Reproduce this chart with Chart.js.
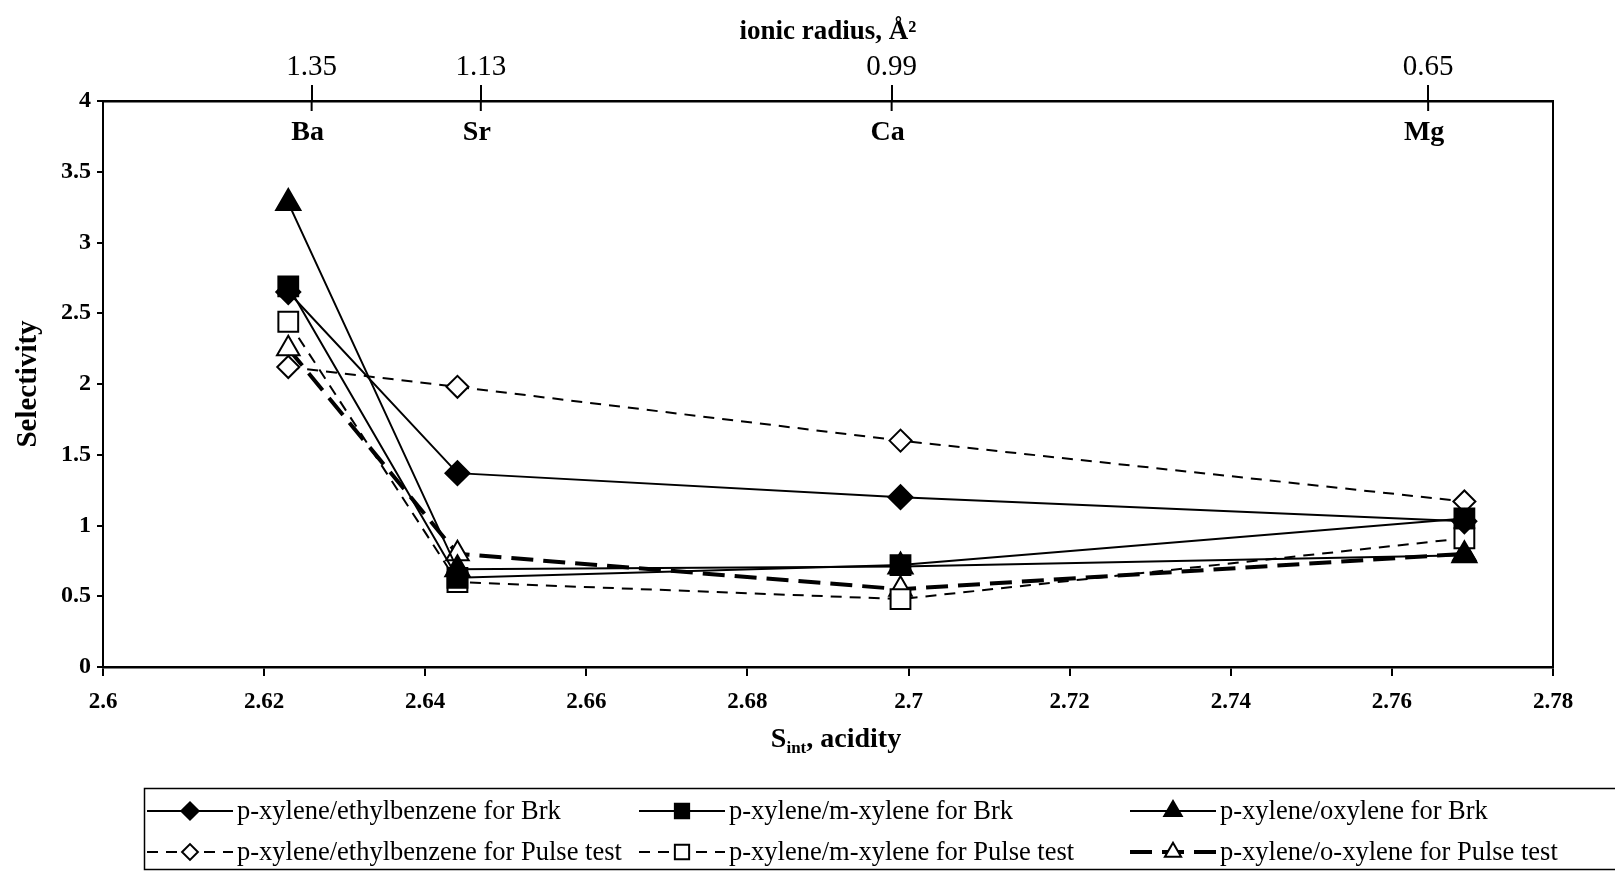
<!DOCTYPE html>
<html>
<head>
<meta charset="utf-8">
<script src="https://cdn.jsdelivr.net/npm/chart.js@4.4.0/dist/chart.umd.min.js"></script>
<style>
  html, body { margin: 0; padding: 0; background: #fff; }
  #wrap { width: 1615px; height: 872px; }
</style>
</head>
<body>
<div id="wrap"><canvas id="chart" width="1615" height="872"></canvas></div>
<script>
/* ── Data ───────────────────────────────────────── */
const xValues    = [2.623, 2.644, 2.699, 2.769];          // S_int acidity for Ba, Sr, Ca, Mg
const elements   = ['Ba', 'Sr', 'Ca', 'Mg'];
const ionRadius  = ['1.35', '1.13', '0.99', '0.65'];
const ionTickPos = [2.6259, 2.6469, 2.6979, 2.7645];      // where the radius ticks sit on the top axis
const xTicks     = [2.6, 2.62, 2.64, 2.66, 2.68, 2.7, 2.72, 2.74, 2.76, 2.78];
const yTicks     = [0, 0.5, 1, 1.5, 2, 2.5, 3, 3.5, 4];

const ebBrk   = [2.65, 1.37, 1.20, 1.03];
const mxBrk   = [2.69, 0.63, 0.72, 1.05];
const oxBrk   = [3.28, 0.69, 0.71, 0.79];
const ebPulse = [2.12, 1.98, 1.60, 1.17];
const mxPulse = [2.44, 0.60, 0.48, 0.91];
const oxPulse = [2.25, 0.80, 0.55, 0.80];

const seriesLabels = [
    'p-xylene/ethylbenzene for Brk',
    'p-xylene/m-xylene for Brk',
    'p-xylene/oxylene for Brk',
    'p-xylene/ethylbenzene for Pulse test',
    'p-xylene/m-xylene for Pulse test',
    'p-xylene/o-xylene for Pulse test'
];

const SERIF = '"Liberation Serif", "Times New Roman", serif';
const pts = arr => arr.map((y, i) => ({ x: xValues[i], y }));

function series(label, data, style) {
    return Object.assign({
        label,
        data: pts(data),
        borderColor: '#000',
        borderWidth: 2,
        borderDash: [],
        pointBorderColor: '#000',
        pointBorderWidth: 2,
        tension: 0,
        fill: false
    }, style);
}

/* ── Plugins ────────────────────────────────────── */
// inner part of the top ticks, element names and the right frame line
const frameExtras = {
    id: 'frameExtras',
    afterDatasetsDraw(chart) {
        const { ctx, chartArea: a } = chart;
        const top = chart.scales.x2;
        ctx.save();
        ctx.strokeStyle = '#000';
        ctx.lineWidth = 2;
        ctx.beginPath();
        ctx.moveTo(a.right, a.top);
        ctx.lineTo(a.right, a.bottom);
        ctx.stroke();

        ctx.fillStyle = '#000';
        ctx.font = 'bold 28px ' + SERIF;
        ctx.textAlign = 'center';
        ctx.textBaseline = 'middle';
        ionTickPos.forEach((v, i) => {
            const px = top.getPixelForValue(v);
            ctx.beginPath();
            ctx.moveTo(px, a.top);
            ctx.lineTo(px, a.top + 10);
            ctx.stroke();
            ctx.fillText(elements[i], px - 4, a.top + 32);
        });
        ctx.restore();
    }
};

// x-axis title with subscript + boxed legend in three columns
const extrasBelow = {
    id: 'extrasBelow',
    afterDraw(chart) {
        const ctx = chart.ctx;
        ctx.save();
        ctx.fillStyle = '#000';
        ctx.textBaseline = 'alphabetic';

        // S_int, acidity
        const big = 'bold 28px ' + SERIF, small = 'bold 17px ' + SERIF;
        ctx.font = big;   const wS = ctx.measureText('S').width;
        const wRest = ctx.measureText(', acidity').width;
        ctx.font = small; const wSub = ctx.measureText('int').width;
        let x = 836 - (wS + wSub + wRest) / 2;
        const base = 747;
        ctx.font = big;   ctx.fillText('S', x, base); x += wS;
        ctx.font = small; ctx.fillText('int', x, base + 6); x += wSub;
        ctx.font = big;   ctx.fillText(', acidity', x, base);

        // legend
        ctx.strokeStyle = '#000';
        ctx.lineWidth = 1.5;
        ctx.strokeRect(144.5, 788.5, 1520, 81);
        const cols = [147, 639, 1130];
        const rows = [811, 852];
        chart.data.datasets.forEach((ds, i) => {
            const x0 = cols[i % 3], y = rows[Math.floor(i / 3)];
            ctx.strokeStyle = '#000';
            ctx.setLineDash(ds.borderDash);
            ctx.lineWidth = ds.borderWidth;
            ctx.beginPath();
            ctx.moveTo(x0, y);
            ctx.lineTo(x0 + 86, y);
            ctx.stroke();
            ctx.setLineDash([]);
            ctx.fillStyle = ds.pointBackgroundColor;
            ctx.lineWidth = ds.pointBorderWidth;
            Chart.helpers.drawPoint(ctx, {
                pointStyle: ds.pointStyle,
                radius: ds.pointRadius * 0.72,
                rotation: 0,
                borderWidth: ds.pointBorderWidth
            }, x0 + 43, y);
            ctx.fillStyle = '#000';
            ctx.font = '26.5px ' + SERIF;
            ctx.textBaseline = 'middle';
            ctx.textAlign = 'left';
            ctx.fillText(ds.label, x0 + 90, y + 1);
        });
        ctx.restore();
    }
};

/* ── Chart ──────────────────────────────────────── */
new Chart(document.getElementById('chart'), {
    type: 'line',
    data: {
        datasets: [
            series(seriesLabels[0], ebBrk,   { pointStyle: 'rectRot',  pointRadius: 12, pointBackgroundColor: '#000' }),
            series(seriesLabels[1], mxBrk,   { pointStyle: 'rect',     pointRadius: 14, pointBackgroundColor: '#000' }),
            series(seriesLabels[2], oxBrk,   { pointStyle: 'triangle', pointRadius: 14, pointBackgroundColor: '#000' }),
            series(seriesLabels[3], ebPulse, { pointStyle: 'rectRot',  pointRadius: 11, pointBackgroundColor: '#fff', borderDash: [11, 8] }),
            series(seriesLabels[4], mxPulse, { pointStyle: 'rect',     pointRadius: 14, pointBackgroundColor: '#fff', borderDash: [11, 8] }),
            series(seriesLabels[5], oxPulse, { pointStyle: 'triangle', pointRadius: 13, pointBackgroundColor: '#fff', borderDash: [22, 10], borderWidth: 4 })
        ]
    },
    options: {
        responsive: false,
        animation: false,
        layout: { padding: { left: 0, right: 62, top: 0, bottom: 0 } },
        plugins: {
            legend: { display: false },
            tooltip: { enabled: false }
        },
        scales: {
            x: {
                type: 'linear',
                position: 'bottom',
                min: 2.6,
                max: 2.78,
                afterBuildTicks: s => { s.ticks = xTicks.map(v => ({ value: v })); },
                afterFit: s => { s.height = 205; },
                grid: { drawOnChartArea: false, tickLength: 9, color: '#000', lineWidth: 2 },
                border: { color: '#000', width: 2.5 },
                ticks: {
                    color: '#000',
                    font: { family: SERIF, size: 23, weight: 'bold' },
                    padding: 12,
                    maxRotation: 0,
                    autoSkip: false,
                    callback: v => String(+v.toFixed(2))
                }
            },
            x2: {
                type: 'linear',
                position: 'top',
                min: 2.6,
                max: 2.78,
                afterBuildTicks: s => { s.ticks = ionTickPos.map(v => ({ value: v })); },
                afterFit: s => { s.height = 101; },
                grid: { drawOnChartArea: false, tickLength: 16, color: '#000', lineWidth: 2 },
                border: { color: '#000', width: 2.5 },
                ticks: {
                    color: '#000',
                    font: { family: SERIF, size: 29 },
                    padding: 0,
                    maxRotation: 0,
                    autoSkip: false,
                    callback: (v, i) => ionRadius[i]
                },
                title: {
                    display: true,
                    text: 'ionic radius, Å²',
                    color: '#000',
                    font: { family: SERIF, size: 27, weight: 'bold' },
                    padding: { top: 16, bottom: 0 }
                }
            },
            y: {
                min: 0,
                max: 4,
                afterBuildTicks: s => { s.ticks = yTicks.map(v => ({ value: v })); },
                afterFit: s => { s.width = 103; },
                grid: { drawOnChartArea: false, tickLength: 6, color: '#000', lineWidth: 2 },
                border: { color: '#000', width: 2 },
                ticks: {
                    color: '#000',
                    font: { family: SERIF, size: 24, weight: 'bold' },
                    padding: 6,
                    callback: v => String(v)
                },
                title: {
                    display: true,
                    text: 'Selectivity',
                    color: '#000',
                    font: { family: SERIF, size: 29, weight: 'bold' },
                    padding: { top: 11, bottom: 0 }
                }
            }
        }
    },
    plugins: [frameExtras, extrasBelow]
});
</script>
</body>
</html>
